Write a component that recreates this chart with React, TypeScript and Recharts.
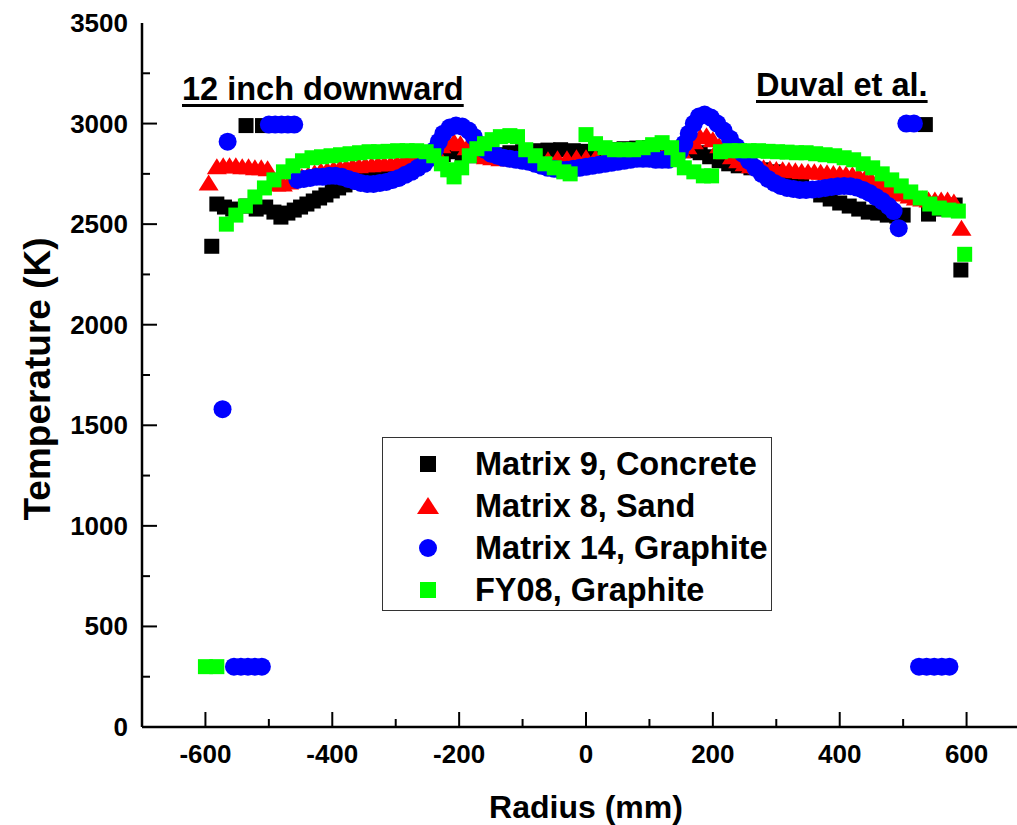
import React from 'react';
import { ScatterChart, Scatter, XAxis, YAxis, Legend, Label } from 'recharts';

const FONT = '"Liberation Sans", Arial, Helvetica, sans-serif';

const seriesNames = ['Matrix 9, Concrete', 'Matrix 8, Sand', 'Matrix 14, Graphite', 'FY08, Graphite'];
const seriesColors = ['#000000', '#ff0000', '#0000ff', '#00ff00'];

// Matrix 9, Concrete (black squares)
const concreteX = [-590, -582, -570, -557, -536, -510, -535, -520, -505, -492, -481, -470, -460, -450, -440, -430, -420, -410, -400, -390, -380, -365, -350, -335, -320, -300, -280, -260, -240, -225, -210, -195, -180, -160, -140, -120, -100, -80, -60, -40, -20, 0, 20, 40, 60, 80, 100, 120, 140, 160, 180, 195, 210, 225, 240, 260, 280, 300, 320, 340, 355, 370, 385, 400, 415, 430, 445, 460, 475, 490, 500, 535, 540, 555, 570, 582, 591];
const concreteY = [2390, 2600, 2585, 2575, 2990, 2990, 2590, 2575, 2585, 2560, 2535, 2555, 2570, 2585, 2600, 2615, 2630, 2645, 2665, 2680, 2695, 2710, 2725, 2740, 2760, 2780, 2800, 2820, 2830, 2845, 2860, 2850, 2840, 2840, 2845, 2855, 2860, 2865, 2868, 2870, 2865, 2862, 2865, 2870, 2875, 2878, 2880, 2880, 2870, 2865, 2855, 2835, 2815, 2800, 2790, 2780, 2770, 2760, 2740, 2700, 2670, 2645, 2625, 2605, 2590, 2575, 2560, 2555, 2545, 2540, 2545, 2995, 2550, 2575, 2590, 2595, 2272];

// Matrix 8, Sand (red triangles)
const sandX = [-595, -582, -572, -562, -552, -542, -532, -522, -512, -502, -488, -478, -468, -458, -448, -438, -428, -418, -408, -398, -388, -378, -368, -358, -348, -338, -328, -318, -308, -298, -288, -278, -268, -258, -248, -238, -228, -218, -208, -198, -188, -178, -168, -158, -148, -135, -120, -105, -90, -75, -60, -45, -30, -15, 0, 15, 30, 45, 60, 75, 90, 105, 120, 130, 140, 150, 160, 170, 180, 190, 200, 210, 220, 230, 240, 250, 260, 270, 280, 290, 300, 310, 320, 330, 340, 350, 360, 370, 380, 390, 400, 410, 420, 430, 440, 450, 460, 470, 480, 490, 500, 510, 520, 530, 540, 550, 560, 570, 580, 592];
const sandY = [2705, 2785, 2790, 2790, 2790, 2785, 2785, 2780, 2780, 2775, 2700, 2700, 2710, 2725, 2735, 2745, 2755, 2765, 2770, 2775, 2780, 2785, 2790, 2790, 2795, 2795, 2800, 2800, 2800, 2805, 2810, 2815, 2825, 2835, 2850, 2870, 2890, 2905, 2910, 2900, 2880, 2860, 2845, 2835, 2830, 2825, 2825, 2820, 2820, 2820, 2820, 2825, 2825, 2830, 2830, 2830, 2830, 2835, 2835, 2835, 2835, 2835, 2835, 2840, 2850, 2865, 2885, 2910, 2935, 2940, 2920, 2890, 2860, 2835, 2815, 2800, 2790, 2785, 2780, 2775, 2772, 2770, 2768, 2765, 2762, 2760, 2760, 2758, 2755, 2752, 2750, 2748, 2745, 2740, 2730, 2720, 2705, 2690, 2675, 2660, 2650, 2640, 2630, 2625, 2620, 2620, 2620, 2620, 2610, 2480];

// Matrix 14, Graphite (blue circles)
const graphiteX = [-573, -565, -500, -490, -480, -470, -460, -555, -544, -533, -522, -511, -455, -445, -435, -425, -415, -405, -395, -385, -375, -365, -355, -345, -335, -325, -315, -305, -295, -285, -275, -265, -255, -245, -238, -232, -225, -215, -205, -195, -185, -177, -170, -160, -150, -140, -130, -120, -110, -100, -90, -80, -70, -60, -50, -40, -30, -20, -10, 0, 10, 20, 30, 40, 50, 60, 70, 80, 90, 100, 110, 120, 130, 140, 148, 155, 162, 170, 178, 187, 197, 207, 217, 227, 237, 247, 257, 267, 277, 287, 297, 307, 317, 327, 337, 347, 357, 367, 377, 387, 397, 407, 417, 427, 437, 447, 457, 467, 477, 485, 493, 505, 517, 525, 537, 549, 561, 573];
const graphiteY = [1580, 2910, 2995, 2995, 2995, 2995, 2995, 300, 300, 300, 300, 300, 2720, 2725, 2730, 2735, 2735, 2740, 2740, 2735, 2725, 2715, 2705, 2700, 2700, 2705, 2710, 2720, 2730, 2745, 2760, 2780, 2800, 2830, 2870, 2910, 2950, 2980, 2990, 2985, 2965, 2935, 2900, 2870, 2850, 2840, 2830, 2825, 2820, 2815, 2810, 2800, 2790, 2780, 2775, 2770, 2770, 2775, 2780, 2785, 2790, 2795, 2800, 2805, 2810, 2815, 2820, 2825, 2825, 2825, 2820, 2820, 2820, 2830, 2860, 2900, 2950, 3000, 3035, 3045, 3030, 3000, 2965, 2925, 2885, 2850, 2815, 2780, 2750, 2725, 2705, 2690, 2680, 2675, 2670, 2670, 2672, 2675, 2680, 2685, 2688, 2690, 2688, 2682, 2670, 2655, 2635, 2615, 2590, 2565, 2480, 3000, 3000, 300, 300, 300, 300, 300];

// FY08, Graphite (green squares)
const fy08X = [-600, -582, -567, -552, -537, -522, -507, -492, -477, -462, -447, -432, -417, -402, -387, -372, -357, -342, -327, -312, -297, -282, -267, -252, -240, -228, -218, -208, -196, -184, -172, -160, -148, -135, -120, -108, -95, -80, -65, -50, -35, -25, 0, 15, 30, 45, 60, 75, 90, 105, 120, 135, 145, 155, 170, 185, 198, 212, 227, 242, 257, 272, 287, 302, 317, 332, 347, 362, 377, 392, 407, 422, 437, 452, 467, 482, 497, 512, 527, 542, 557, 572, 587, 597];
const fy08Y = [300, 300, 2500, 2545, 2590, 2635, 2680, 2720, 2760, 2790, 2815, 2830, 2835, 2840, 2845, 2850, 2855, 2860, 2860, 2862, 2865, 2865, 2865, 2860, 2840, 2800, 2770, 2735, 2780, 2840, 2875, 2900, 2920, 2935, 2940, 2935, 2870, 2840, 2800, 2780, 2760, 2750, 2945, 2900, 2880, 2870, 2870, 2870, 2880, 2895, 2905, 2880, 2820, 2780, 2760, 2740, 2740, 2860, 2865, 2865, 2865, 2865, 2862, 2860, 2858, 2855, 2855, 2850, 2845, 2840, 2830, 2820, 2800, 2780, 2750, 2720, 2690, 2660, 2630, 2600, 2580, 2570, 2565, 2350];

const xAllTicks = [-700, -600, -500, -400, -300, -200, -100, 0, 100, 200, 300, 400, 500, 600, 700];
const xLabelTicks = [-600, -400, -200, 0, 200, 400, 600];
const yAllTicks = [0, 250, 500, 750, 1000, 1250, 1500, 1750, 2000, 2250, 2500, 2750, 3000, 3250, 3500];
const yLabelTicks = [0, 500, 1000, 1500, 2000, 2500, 3000, 3500];

const xTitle = 'Radius (mm)';
const yTitle = 'Temperature (K)';
const noteLeft = '12 inch downward';
const noteRight = 'Duval et al.';

const toPoints = (xs: number[], ys: number[]) => xs.map((x, i) => ({ x, y: ys[i] }));

const isMajorX = (v: number) => v % 200 === 0;
const isMajorY = (v: number) => v % 500 === 0;

const BottomTick = (props: any) => {
  const { x, y, payload } = props;
  const v = payload.value;
  const edge = v === -700 || v === 700;
  return (
    <g>
      {!edge && <line x1={x} x2={x} y1={y} y2={y - (isMajorX(v) ? 15 : 8)} stroke="#000" strokeWidth={2} />}
      {xLabelTicks.includes(v) && (
        <text x={x} y={y + 36} textAnchor="middle" fontSize={26} fontWeight="bold" fontFamily={FONT} fill="#000">{v}</text>
      )}
    </g>
  );
};

const TopTick = (props: any) => {
  const { x, y, payload } = props;
  const v = payload.value;
  const edge = v === -700 || v === 700;
  if (edge) return <g />;
  return <line x1={x} x2={x} y1={y} y2={y + (isMajorX(v) ? 15 : 10)} stroke="#000" strokeWidth={2} />;
};

const LeftTick = (props: any) => {
  const { x, y, payload } = props;
  const v = payload.value;
  return (
    <g>
      {v !== 0 && v !== 3500 && <line x1={x} x2={x + (isMajorY(v) ? 15 : 8)} y1={y} y2={y} stroke="#000" strokeWidth={2} />}
      {yLabelTicks.includes(v) && (
        <text x={x - 14} y={y + 9} textAnchor="end" fontSize={26} fontWeight="bold" fontFamily={FONT} fill="#000">{v}</text>
      )}
    </g>
  );
};

const RightTick = (props: any) => {
  const { x, y, payload } = props;
  const v = payload.value;
  if (v === 0 || v === 3500) return <g />;
  return <line x1={x} x2={x - (isMajorY(v) ? 15 : 8)} y1={y} y2={y} stroke="#000" strokeWidth={2} />;
};

const XTitle = (props: any) => {
  const vb = props.viewBox || {};
  const cx = (vb.x ?? 0) + (vb.width ?? 0) / 2;
  const by = (vb.y ?? 0) + 91;
  return (
    <text x={cx} y={by} textAnchor="middle" fontSize={32} fontWeight="bold" fontFamily={FONT} fill="#000">{xTitle}</text>
  );
};

const YTitle = (props: any) => {
  const vb = props.viewBox || {};
  const cx = (vb.x ?? 0) + 37;
  const cy = (vb.y ?? 0) + (vb.height ?? 0) / 2 + 4;
  return (
    <text x={cx} y={cy} transform={`rotate(-90 ${cx} ${cy})`} textAnchor="middle" dominantBaseline="central" fontSize={37} fontWeight="bold" fontFamily={FONT} fill="#000">{yTitle}</text>
  );
};

const squareShape = (color: string) => (p: any) => (
  <rect x={p.cx - 7.5} y={p.cy - 7.5} width={15} height={15} fill={color} />
);
const triangleShape = (color: string) => (p: any) => (
  <polygon points={`${p.cx - 10},${p.cy + 7.5} ${p.cx + 10},${p.cy + 7.5} ${p.cx},${p.cy - 8.5}`} fill={color} />
);
const circleShape = (color: string) => (p: any) => (
  <circle cx={p.cx} cy={p.cy} r={9} fill={color} />
);

const LegendSymbol = ({ i }: { i: number }) => {
  const c = seriesColors[i];
  if (i === 1) return <polygon points="34,24 56,24 45,7" fill={c} />;
  if (i === 2) return <circle cx={45} cy={16} r={9} fill={c} />;
  return <rect x={37} y={8} width={16} height={16} fill={c} />;
};

const LegendBox = () => (
  <div
    style={{
      width: 390,
      height: 174,
      boxSizing: 'border-box',
      border: '1.5px solid #333',
      background: '#fff',
      paddingTop: 5,
      fontFamily: FONT,
      fontWeight: 'bold',
      fontSize: 32.5,
      color: '#000',
    }}
  >
    {seriesNames.map((n, i) => (
      <div key={n} style={{ display: 'flex', alignItems: 'center', height: 42 }}>
        <svg width={92} height={32} style={{ flex: 'none' }}>
          <LegendSymbol i={i} />
        </svg>
        <span style={{ lineHeight: '32px', whiteSpace: 'nowrap' }}>{n}</span>
      </div>
    ))}
  </div>
);

const noteStyle: React.CSSProperties = {
  position: 'absolute',
  fontFamily: FONT,
  fontWeight: 'bold',
  fontSize: 32.5,
  lineHeight: '32px',
  color: '#000',
  textDecoration: 'underline',
  textDecorationThickness: '3px',
  textUnderlineOffset: '4px',
  whiteSpace: 'nowrap',
};

export default function App() {
  return (
    <div style={{ position: 'fixed', left: 0, top: 0, width: 1017, height: 825, overflow: 'hidden', background: '#fff' }}>
      <ScatterChart width={1060} height={825} margin={{ top: 23, right: 30, bottom: 0, left: 0 }}>
        <XAxis
          dataKey="x"
          type="number"
          domain={[-700, 700]}
          ticks={xAllTicks}
          interval={0}
          allowDataOverflow
          height={98}
          tickSize={0}
          tickMargin={0}
          tickLine={false}
          axisLine={{ stroke: '#000', strokeWidth: 2.5 }}
          tick={BottomTick}
        >
          <Label content={XTitle} />
        </XAxis>
        <XAxis
          xAxisId="top"
          orientation="top"
          type="number"
          domain={[-700, 700]}
          ticks={xAllTicks}
          interval={0}
          allowDataOverflow
          height={0}
          tickSize={0}
          tickMargin={0}
          tickLine={false}
          axisLine={{ stroke: '#000', strokeWidth: 2.5 }}
          tick={TopTick}
        />
        <YAxis
          dataKey="y"
          type="number"
          domain={[0, 3500]}
          ticks={yAllTicks}
          interval={0}
          allowDataOverflow
          width={142}
          tickSize={0}
          tickMargin={0}
          tickLine={false}
          axisLine={{ stroke: '#000', strokeWidth: 2.5 }}
          tick={LeftTick}
        >
          <Label content={YTitle} />
        </YAxis>
        <YAxis
          yAxisId="right"
          orientation="right"
          type="number"
          domain={[0, 3500]}
          ticks={yAllTicks}
          interval={0}
          allowDataOverflow
          width={0}
          tickSize={0}
          tickMargin={0}
          tickLine={false}
          axisLine={{ stroke: '#000', strokeWidth: 2.5 }}
          tick={RightTick}
        />
        <Legend
          layout="vertical"
          align="center"
          verticalAlign="middle"
          wrapperStyle={{ left: 382, top: 437, width: 390, height: 174 }}
          content={() => <LegendBox />}
        />
        <Scatter name={seriesNames[0]} data={toPoints(concreteX, concreteY)} fill={seriesColors[0]} shape={squareShape(seriesColors[0])} isAnimationActive={false} />
        <Scatter name={seriesNames[1]} data={toPoints(sandX, sandY)} fill={seriesColors[1]} shape={triangleShape(seriesColors[1])} isAnimationActive={false} />
        <Scatter name={seriesNames[2]} data={toPoints(graphiteX, graphiteY)} fill={seriesColors[2]} shape={circleShape(seriesColors[2])} isAnimationActive={false} />
        <Scatter name={seriesNames[3]} data={toPoints(fy08X, fy08Y)} fill={seriesColors[3]} shape={squareShape(seriesColors[3])} isAnimationActive={false} />
      </ScatterChart>
      <div style={{ ...noteStyle, left: 182, top: 73 }}>{noteLeft}</div>
      <div style={{ ...noteStyle, left: 756, top: 69 }}>{noteRight}</div>
    </div>
  );
}
